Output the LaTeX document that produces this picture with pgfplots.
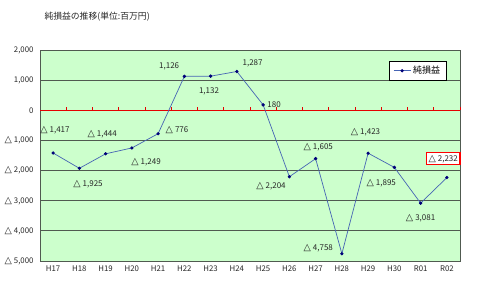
\documentclass[border=0pt]{standalone}
\usepackage{pgfplots}
\pgfplotsset{compat=1.18}
\usepackage{fontspec}
\setmainfont{Noto Sans CJK JP}
\newfontfamily\dejavu{DejaVu Sans}
\newcommand\tri{{\dejavu\fontsize{9.5}{9}\selectfont △}\hspace{2pt}}
\definecolor{bggreen}{RGB}{204,255,204}
\definecolor{lineblue}{RGB}{70,100,180}
\definecolor{mknavy}{RGB}{0,0,120}
\definecolor{gridgray}{RGB}{80,90,80}
\begin{document}
\begin{tikzpicture}[x=1pt,y=1pt]
\useasboundingbox (0,0) rectangle (480,284);
\node[anchor=base west,font=\fontsize{8.8}{10}\selectfont, text=black!85] at (41,264) {純損益の推移(単位:百万円)};
\begin{axis}[
  at={(40pt,23pt)}, anchor=south west,
  scale only axis, width=420pt, height=211pt,
  xmin=-0.5, xmax=15.5, ymin=-5000, ymax=2000,
  axis background/.style={fill=bggreen},
  axis line style={gridgray, line width=0.6pt},
  xtick={0,...,15},
  xticklabels={H17,H18,H19,H20,H21,H22,H23,H24,H25,H26,H27,H28,H29,H30,R01,R02},
  ytick={-5000,-4000,-3000,-2000,-1000,0,1000,2000},
  yticklabels={{\tri 5,000},{\tri 4,000},{\tri 3,000},{\tri 2,000},{\tri 1,000},0,{1,000},{2,000}},
  major tick length=0pt,
  ymajorgrids, grid style={gridgray, line width=0.8pt},
  tick label style={font=\fontsize{7.8}{9}\selectfont, text=black!85},
  xticklabel style={yshift=-1pt},
  yticklabel style={xshift=-3pt},
  clip=false,
  legend style={at={(0.831,0.948)}, anchor=north west, draw=black, line width=0.5pt, fill=white, font=\fontsize{9}{10}\selectfont, inner xsep=4pt, inner ysep=3pt, legend cell align=left},
]
\draw[red!90!black, line width=0.8pt] (axis cs:-0.5,0) -- (axis cs:15.5,0);
\pgfplotsinvokeforeach{0.5,1.5,2.5,3.5,4.5,5.5,6.5,7.5,8.5,9.5,10.5,11.5,12.5,13.5,14.5,15.5}{
  \draw[red!90!black, line width=0.6pt] (axis cs:#1,0) -- ++(0pt,3pt);
}
\addplot[color=lineblue, line width=0.7pt, mark=*, mark size=1.3pt, mark options={fill=mknavy, draw=mknavy}]
coordinates {
(0,-1417) (1,-1925) (2,-1444) (3,-1249) (4,-776) (5,1126) (6,1132) (7,1287)
(8,180) (9,-2204) (10,-1605) (11,-4758) (12,-1423) (13,-1895) (14,-3081) (15,-2232)
};
\addlegendentry{純損益}
\node[font=\fontsize{8}{9}\selectfont, text=black!85] at (axis cs:0.07,-665) {\tri 1,417};
\node[font=\fontsize{8}{9}\selectfont, text=black!85] at (axis cs:1.87,-800) {\tri 1,444};
\node[font=\fontsize{8}{9}\selectfont, text=black!85] at (axis cs:3.54,-1730) {\tri 1,249};
\node[font=\fontsize{8}{9}\selectfont, text=black!85] at (axis cs:1.33,-2460) {\tri 1,925};
\node[font=\fontsize{8}{9}\selectfont, text=black!85] at (axis cs:4.72,-665) {\tri 776};
\node[font=\fontsize{8}{9}\selectfont, text=black!85] at (axis cs:4.42,1460) {1,126};
\node[font=\fontsize{8}{9}\selectfont, text=black!85] at (axis cs:5.94,630) {1,132};
\node[font=\fontsize{8}{9}\selectfont, text=black!85] at (axis cs:7.6,1560) {1,287};
\node[font=\fontsize{8}{9}\selectfont, text=black!85] at (axis cs:8.42,200) {180};
\node[font=\fontsize{8}{9}\selectfont, text=black!85] at (axis cs:8.3,-2525) {\tri 2,204};
\node[font=\fontsize{8}{9}\selectfont, text=black!85] at (axis cs:10.1,-1230) {\tri 1,605};
\node[font=\fontsize{8}{9}\selectfont, text=black!85] at (axis cs:10.1,-4585) {\tri 4,758};
\node[font=\fontsize{8}{9}\selectfont, text=black!85] at (axis cs:11.9,-730) {\tri 1,423};
\node[font=\fontsize{8}{9}\selectfont, text=black!85] at (axis cs:12.5,-2425) {\tri 1,895};
\node[font=\fontsize{8}{9}\selectfont, text=black!85] at (axis cs:14.0,-3590) {\tri 3,081};
\node[font=\fontsize{8}{9}\selectfont, text=black!85, fill=white, draw=red, line width=1.5pt, inner xsep=2pt, text height=7pt, text depth=2pt, inner ysep=1.5pt] at (axis cs:14.86,-1600) {\tri 2,232};
\end{axis}
\end{tikzpicture}
\end{document}
